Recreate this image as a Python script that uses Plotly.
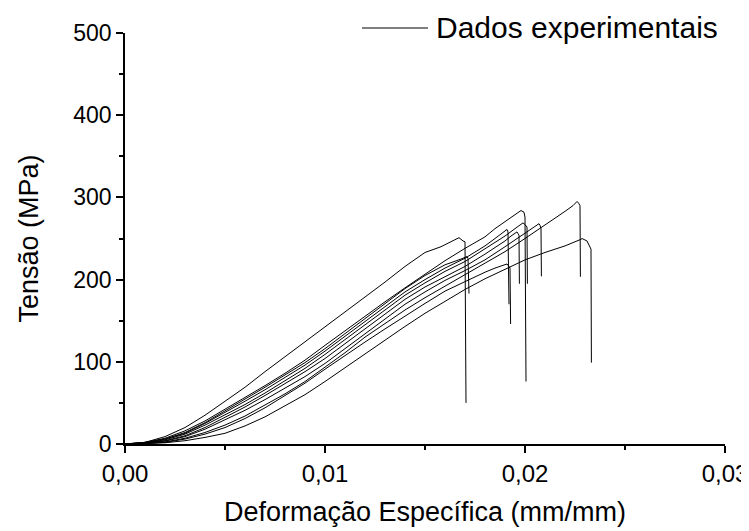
import plotly.graph_objects as go

# Stress-strain curves (strain mm/mm, stress MPa)
strain_A = [0, .001, .002, .003, .004, .005, .006, .007, .008, .009, .010, .011, .012, .013, .014, .015, .0158, .0163, .0167, .0169, .0170, .01705]
stress_A = [0, 2, 9, 20, 35, 52, 69, 88, 106, 124, 142, 160, 178, 197, 216, 233, 240, 246, 251, 247, 246, 50]

strain_B = [0, .001, .002, .003, .004, .005, .006, .007, .008, .009, .010, .011, .012, .013, .014, .015, .016, .017, .018, .0185, .019, .0195, .0198, .01995, .0200, .02005]
stress_B = [0, 2, 7, 16, 28, 42, 56, 71, 86, 102, 120, 138, 156, 173, 190, 207, 223, 238, 252, 262, 271, 279, 284, 282, 276, 76]

strain_J = [0, .001, .002, .003, .004, .005, .006, .007, .008, .009, .010, .011, .012, .013, .014, .015, .016, .0168, .0171, .01715, .0172]
stress_J = [0, 2, 6, 14, 26, 40, 54, 69, 84, 99, 116, 134, 153, 171, 189, 205, 218, 225, 228, 226, 183]

strain_H = [0, .001, .002, .003, .004, .005, .006, .007, .008, .009, .010, .011, .012, .013, .014, .015, .016, .017, .018, .0185, .019, .0191, .01915, .0192]
stress_H = [0, 1.5, 6, 13, 25, 38, 52, 66, 81, 96, 113, 131, 150, 168, 185, 200, 214, 226, 241, 250, 259, 261, 258, 170]

strain_F = [0, .001, .002, .003, .004, .005, .006, .007, .008, .009, .010, .011, .012, .013, .014, .015, .016, .017, .018, .019, .0195, .0199, .0200, .0201, .02012]
stress_F = [0, 1, 5, 12, 23, 35, 48, 62, 77, 92, 109, 127, 146, 164, 181, 196, 210, 222, 237, 253, 262, 269, 267, 264, 195]

strain_G = [0, .001, .002, .003, .004, .005, .006, .007, .008, .009, .010, .011, .012, .013, .014, .015, .016, .017, .018, .019, .0193, .0196, .01965, .0197, .01972]
stress_G = [0, 1, 4, 10, 20, 32, 45, 59, 73, 88, 104, 122, 141, 159, 176, 191, 204, 216, 231, 247, 253, 258, 256, 254, 195]

strain_E = [0, .001, .002, .003, .004, .005, .006, .007, .008, .009, .010, .011, .012, .013, .014, .015, .016, .017, .018, .019, .020, .0205, .0207, .02075, .0208, .02082]
stress_E = [0, 1, 3.5, 9, 18, 29, 41, 54, 68, 82, 98, 116, 135, 153, 170, 185, 199, 211, 224, 240, 256, 264, 268, 266, 262, 204]

strain_C = [0, .001, .002, .003, .004, .005, .006, .007, .008, .009, .010, .011, .012, .013, .014, .015, .016, .017, .018, .019, .020, .021, .022, .0224, .0226, .02268, .02275, .02277]
stress_C = [0, 0.5, 2.5, 7, 14, 23, 34, 47, 61, 76, 93, 111, 130, 147, 163, 178, 192, 205, 219, 234, 250, 266, 283, 290, 295, 293, 290, 203.5]

strain_I = [0, .001, .002, .003, .004, .005, .006, .007, .008, .009, .010, .011, .012, .013, .014, .015, .016, .017, .0175, .018, .0185, .019, .0191, .0192, .01925, .01928]
stress_I = [0, 0.5, 2, 6, 12, 20, 31, 44, 59, 74, 91, 108, 124, 140, 156, 171, 186, 198, 204, 209, 214, 218, 219, 216, 214, 146]

strain_D = [0, .001, .002, .003, .004, .005, .006, .007, .008, .009, .010, .011, .012, .013, .014, .015, .016, .017, .018, .019, .020, .021, .022, .0228, .02285, .0231, .0233, .02332]
stress_D = [0, 0.3, 1.5, 4, 8, 13, 22, 33, 46, 60, 76, 93, 110, 127, 143, 159, 174, 188, 201, 213, 224, 233, 241, 249, 250, 247, 237, 99]

curves = [
    (strain_A, stress_A), (strain_B, stress_B), (strain_J, stress_J),
    (strain_H, stress_H), (strain_F, stress_F), (strain_G, stress_G),
    (strain_E, stress_E), (strain_C, stress_C), (strain_I, stress_I),
    (strain_D, stress_D),
]

legend_label = "Dados experimentais"
x_title = "Deformação Específica (mm/mm)"
y_title = "Tensão (MPa)"
x_ticks = [0, 0.01, 0.02, 0.03]
y_ticks = [0, 100, 200, 300, 400, 500]

FONT = "Liberation Sans, Arial, sans-serif"

fig = go.Figure()
for xs, ys in curves:
    fig.add_trace(go.Scatter(x=xs, y=ys, mode="lines",
                             line=dict(color="black", width=1),
                             showlegend=False, hoverinfo="skip"))

# the page body adds an 8 px offset, so the figure is drawn slightly smaller
fig.update_layout(
    width=741, height=523,
    margin=dict(l=117, r=24, t=25, b=87),
    paper_bgcolor="white", plot_bgcolor="white",
    separators=",.",
    font=dict(family=FONT, color="black"),
    showlegend=False,
)

fig.update_xaxes(
    range=[0, 0.03], tickvals=x_ticks, tickformat=".2f",
    automargin=False,
    showgrid=False, zeroline=False,
    showline=True, linecolor="black", linewidth=1.5,
    ticks="outside", ticklen=7, tickwidth=1.5, tickcolor="black",
    minor=dict(ticks="outside", ticklen=4, tickwidth=1.5, tickcolor="black", dtick=0.005),
    tickfont=dict(size=24, family=FONT),
    title=dict(text=x_title, font=dict(size=27, family=FONT), standoff=17),
)
fig.update_yaxes(
    range=[0, 500], tickvals=y_ticks,
    automargin=False,
    showgrid=False, zeroline=False,
    showline=True, linecolor="black", linewidth=1.5,
    ticks="outside", ticklen=7, tickwidth=1.5, tickcolor="black",
    minor=dict(ticks="outside", ticklen=4, tickwidth=1.5, tickcolor="black", dtick=50),
    tickfont=dict(size=23, family=FONT),
    title=dict(text=y_title, font=dict(size=27, family=FONT), standoff=27),
)

# legend sample (drawn manually to match the long sample line)
fig.add_shape(type="line", xref="paper", yref="paper",
              x0=(362 - 125) / 600, x1=(428 - 125) / 600,
              y0=1 + 5 / 411, y1=1 + 5 / 411,
              line=dict(color="black", width=1))
fig.add_annotation(text=legend_label, xref="paper", yref="paper",
                   x=(434 - 125) / 600, y=1 + 5 / 411,
                   xanchor="left", yanchor="middle", showarrow=False,
                   font=dict(size=30, family=FONT, color="black"))

fig.write_html("out.html")
